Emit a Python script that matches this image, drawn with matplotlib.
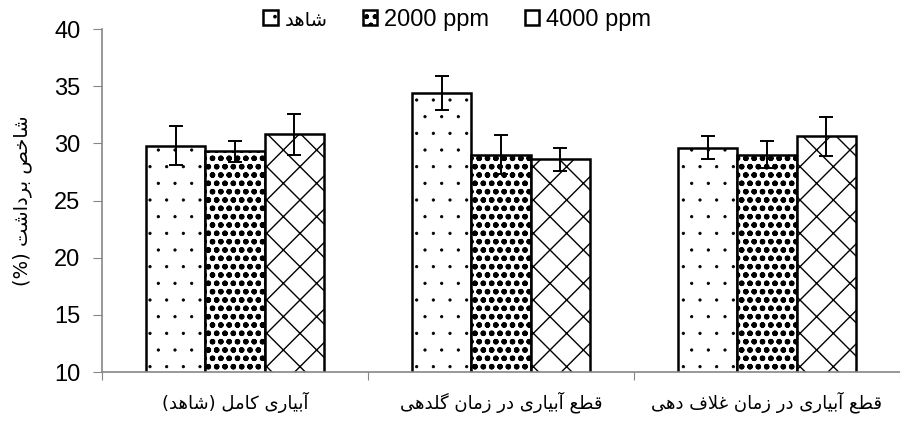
import matplotlib
matplotlib.use('Agg')
import matplotlib.pyplot as plt
import matplotlib.patches as mpatches
import matplotlib.hatch as mhatch
import numpy as np

# Data
categories = ['آبیاری کامل (شاهد)', 'قطع آبیاری در زمان گلدهی', 'قطع آبیاری در زمان غلاف دهی']
series_names = ['شاهد', '2000 ppm', '4000 ppm']
control = [29.8, 34.4, 29.6]
ppm2000 = [29.3, 29.0, 29.0]
ppm4000 = [30.8, 28.6, 30.6]
control_err = [1.7, 1.5, 1.0]
ppm2000_err = [0.9, 1.7, 1.2]
ppm4000_err = [1.8, 1.0, 1.7]
y_label = 'شاخص برداشت (%)'

# Minimal Arabic/Persian shaping (matplotlib has no text shaping / bidi)
FORMS = {
    'ا': '\uFE8D\uFE8E', 'آ': '\uFE81\uFE82', 'د': '\uFEA9\uFEAA',
    'ر': '\uFEAD\uFEAE', 'ز': '\uFEAF\uFEB0',
    'ب': '\uFE8F\uFE90\uFE91\uFE92', 'ت': '\uFE95\uFE96\uFE97\uFE98',
    'خ': '\uFEA5\uFEA6\uFEA7\uFEA8', 'ص': '\uFEB9\uFEBA\uFEBB\uFEBC',
    'ش': '\uFEB5\uFEB6\uFEB7\uFEB8', 'ط': '\uFEC1\uFEC2\uFEC3\uFEC4',
    'ع': '\uFEC9\uFECA\uFECB\uFECC', 'غ': '\uFECD\uFECE\uFECF\uFED0',
    'ف': '\uFED1\uFED2\uFED3\uFED4', 'ق': '\uFED5\uFED6\uFED7\uFED8',
    'ل': '\uFEDD\uFEDE\uFEDF\uFEE0', 'م': '\uFEE1\uFEE2\uFEE3\uFEE4',
    'ن': '\uFEE5\uFEE6\uFEE7\uFEE8', 'ه': '\uFEE9\uFEEA\uFEEB\uFEEC',
    'ی': '\uFBFC\uFBFD\uFBFE\uFBFF', 'ک': '\uFB8E\uFB8F\uFB90\uFB91',
    'گ': '\uFB92\uFB93\uFB94\uFB95',
}
LAM_ALEF = {'ا': '\uFEFB\uFEFC', 'آ': '\uFEF5\uFEF6'}


def shape(text):
    if not any(c in FORMS for c in text):
        return text
    out = []
    i = 0
    while i < len(text):
        c = text[i]
        if c not in FORMS:
            out.append(c)
            i += 1
            continue
        prev = text[i - 1] if i > 0 else ''
        joins_prev = prev in FORMS and len(FORMS[prev]) == 4
        if c == 'ل' and i + 1 < len(text) and text[i + 1] in LAM_ALEF:
            out.append(LAM_ALEF[text[i + 1]][1 if joins_prev else 0])
            i += 2
            continue
        nxt = text[i + 1] if i + 1 < len(text) else ''
        joins_next = len(FORMS[c]) == 4 and nxt in FORMS
        if joins_prev and joins_next:
            out.append(FORMS[c][3])
        elif joins_prev:
            out.append(FORMS[c][1])
        elif joins_next:
            out.append(FORMS[c][2])
        else:
            out.append(FORMS[c][0])
        i += 1
    vis = ''.join(reversed(out))
    return vis.translate(str.maketrans('()', ')('))


plt.rcParams['font.family'] = ['Liberation Sans', 'DejaVu Sans']
# smaller dots for the '.' hatch, closer to the reference pattern
mhatch.SmallFilledCircles.size = 0.07

fig = plt.figure(figsize=(9, 4.24), dpi=100)
ax = fig.add_axes([0.1133, 0.1226, 0.8867, 0.809])

x = np.arange(len(categories))
w = 0.223
values = [control, ppm2000, ppm4000]
errors = [control_err, ppm2000_err, ppm4000_err]
hatches = ['.', 'oo..', 'x']
hatch_lw = [0.6, 1.6, 1.0]
offsets = [-w, 0, w]

for vals, errs, h, hl, off in zip(values, errors, hatches, hatch_lw, offsets):
    with plt.rc_context({'hatch.linewidth': hl}):
        bars = ax.bar(x + off, vals, w, color='white', edgecolor='black',
                      linewidth=1.8, hatch=h, zorder=2)
    for b in bars:
        if hasattr(b, 'set_hatch_linewidth'):
            b.set_hatch_linewidth(hl)
    ax.errorbar(x + off, vals, yerr=errs, fmt='none', ecolor='black',
                elinewidth=1.4, capsize=4.8, capthick=1.4, zorder=3)

ax.set_ylim(10, 40)
ax.set_yticks(np.arange(10, 41, 5))
ax.set_xlim(-0.5, 2.5)
ax.set_xticks([-0.5, 0.5, 1.5, 2.5])
ax.set_xticklabels([])
ax.set_xticks(x, minor=True)
ax.set_xticklabels([shape(c) for c in categories], minor=True,
                   fontsize=13, family='DejaVu Sans')
ax.tick_params(axis='x', which='minor', length=0, pad=14)
ax.tick_params(axis='x', which='major', length=6, color='#868686',
               direction='out')
ax.tick_params(axis='y', length=6.5, color='#868686', labelsize=17, pad=9)

for s in ['top', 'right']:
    ax.spines[s].set_visible(False)
for s in ['left', 'bottom']:
    ax.spines[s].set_color('#868686')
    ax.spines[s].set_linewidth(1.2)

ax.set_ylabel(shape(y_label), fontsize=14, family='DejaVu Sans', labelpad=16)

handles = []
for h, hl in zip(hatches, hatch_lw):
    with plt.rc_context({'hatch.linewidth': hl}):
        p = mpatches.Patch(facecolor='white', edgecolor='black', hatch=h,
                           linewidth=1.8)
    handles.append(p)
leg = fig.legend(handles, [shape(n) for n in series_names], loc='upper center',
                 bbox_to_anchor=(0.508, 1.03), ncol=3, frameon=False,
                 fontsize=17, handlelength=0.6, handleheight=0.6,
                 handletextpad=0.3, columnspacing=1.5)
leg.get_texts()[0].set_fontsize(14)

plt.savefig('out.png', dpi=100)
